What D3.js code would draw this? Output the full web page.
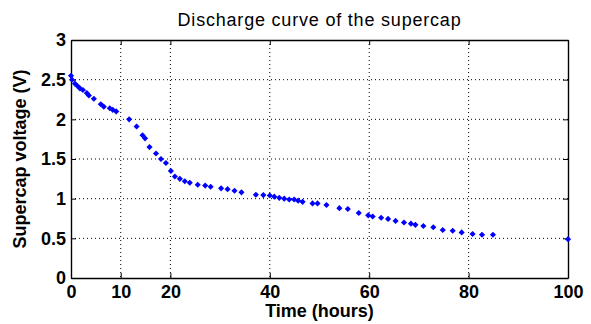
<!DOCTYPE html>
<html>
<head>
<meta charset="utf-8">
<script src="https://cdn.jsdelivr.net/npm/d3@7"></script>
<style>
  body { margin: 0; background: #fff; }
  text { font-family: "Liberation Sans", Arial, sans-serif; }
</style>
</head>
<body>
<svg id="drawing_region"></svg>
<script>
// measured points (hours, volts)
const hours = [0, 0.2, 0.8, 1.3, 1.8, 2.4, 3.2, 3.6, 4.6, 6.0, 6.6, 7.8, 8.4, 9.1,
    11.7, 13.2, 14.4, 14.9, 15.8, 17.1, 18.1, 19.1, 20.1, 20.9, 21.9, 22.9, 23.9,
    25.5, 27.0, 28.1, 30.2, 31.5, 32.9, 34.3, 37.2, 38.7, 40.0, 40.9, 41.9, 42.9,
    43.9, 44.9, 45.7, 46.6, 48.6, 49.6, 51.4, 54.0, 55.7, 57.9, 59.8, 60.7, 62.4,
    63.8, 65.3, 67.0, 68.4, 69.3, 70.9, 72.9, 74.8, 76.8, 78.6, 80.8, 82.7, 84.9, 100];
const volts = [2.55, 2.50, 2.45, 2.42, 2.39, 2.37, 2.33, 2.30, 2.26, 2.19, 2.16, 2.14, 2.12, 2.10,
    2.00, 1.91, 1.80, 1.76, 1.65, 1.57, 1.50, 1.45, 1.35, 1.28, 1.25, 1.22, 1.20,
    1.175, 1.165, 1.15, 1.13, 1.12, 1.10, 1.08, 1.05, 1.045, 1.04, 1.025, 1.01, 1.00,
    0.99, 0.99, 0.975, 0.96, 0.94, 0.94, 0.92, 0.88, 0.87, 0.82, 0.79, 0.775, 0.76,
    0.745, 0.72, 0.70, 0.685, 0.67, 0.655, 0.64, 0.605, 0.595, 0.575, 0.555, 0.545, 0.545, 0.49];
const xTicks = [0, 10, 20, 40, 60, 80, 100];
const yTicks = [0, 0.5, 1, 1.5, 2, 2.5, 3];

const width = 591, height = 324;
const margin = { top: 40, right: 23, bottom: 46, left: 71 };

const svg = d3.select('#drawing_region')
    .attr('width', width)
    .attr('height', height);

const iw = width - margin.left - margin.right;
const ih = height - margin.top - margin.bottom;

const g = svg.append('g')
    .attr('transform', `translate(${margin.left}, ${margin.top})`);

const x = d3.scaleLinear().domain([0, 100]).range([0, iw]);
const y = d3.scaleLinear().domain([0, 3]).range([ih, 0]);

// dotted grid
g.append('g').selectAll('line')
    .data(xTicks.slice(1, -1))
    .enter().append('line')
    .attr('x1', d => x(d)).attr('x2', d => x(d))
    .attr('y1', 0).attr('y2', ih)
    .attr('stroke', '#000').attr('stroke-dasharray', '1,3');
g.append('g').selectAll('line')
    .data(yTicks.slice(1, -1))
    .enter().append('line')
    .attr('x1', 0).attr('x2', iw)
    .attr('y1', d => y(d)).attr('y2', d => y(d))
    .attr('stroke', '#000').attr('stroke-dasharray', '1,3');

// axes (ticks point inward, like matlab)
g.append('g')
    .attr('transform', `translate(0, ${ih})`)
    .call(d3.axisBottom(x).tickValues(xTicks).tickSizeInner(-5).tickSizeOuter(0).tickPadding(7));
g.append('g')
    .call(d3.axisLeft(y).tickValues(yTicks).tickFormat(d3.format('')).tickSizeInner(-5).tickSizeOuter(0).tickPadding(5));
g.append('g')
    .call(d3.axisTop(x).tickValues(xTicks).tickSizeInner(-5).tickSizeOuter(0).tickFormat(''));
g.append('g')
    .attr('transform', `translate(${iw}, 0)`)
    .call(d3.axisRight(y).tickValues(yTicks).tickSizeInner(-5).tickSizeOuter(0).tickFormat(''));

g.selectAll('.domain').attr('stroke', '#000').attr('stroke-width', 1.4);
g.selectAll('.tick line').attr('stroke', '#000');
g.selectAll('.tick text')
    .attr('fill', '#000')
    .style('font-size', '18px')
    .style('font-weight', 'bold');

// markers
g.append('g').selectAll('path')
    .data(hours)
    .enter().append('path')
    .attr('d', d3.symbol().type(d3.symbolDiamond2).size(24))
    .attr('transform', (d, i) => `translate(${x(d)}, ${y(volts[i])})`)
    .attr('fill', '#0000ff');

// labels
svg.append('text')
    .attr('x', margin.left + iw / 2).attr('y', 26)
    .attr('text-anchor', 'middle')
    .style('font-size', '18px')
    .style('letter-spacing', '0.8px')
    .text('Discharge curve of the supercap');

svg.append('text')
    .attr('x', margin.left + iw / 2).attr('y', 317)
    .attr('text-anchor', 'middle')
    .style('font-size', '18px').style('font-weight', 'bold')
    .text('Time (hours)');

svg.append('text')
    .attr('transform', `translate(26, ${margin.top + ih / 2}) rotate(-90)`)
    .attr('text-anchor', 'middle')
    .style('font-size', '18px').style('font-weight', 'bold')
    .text('Supercap voltage (V)');
</script>
</body>
</html>
